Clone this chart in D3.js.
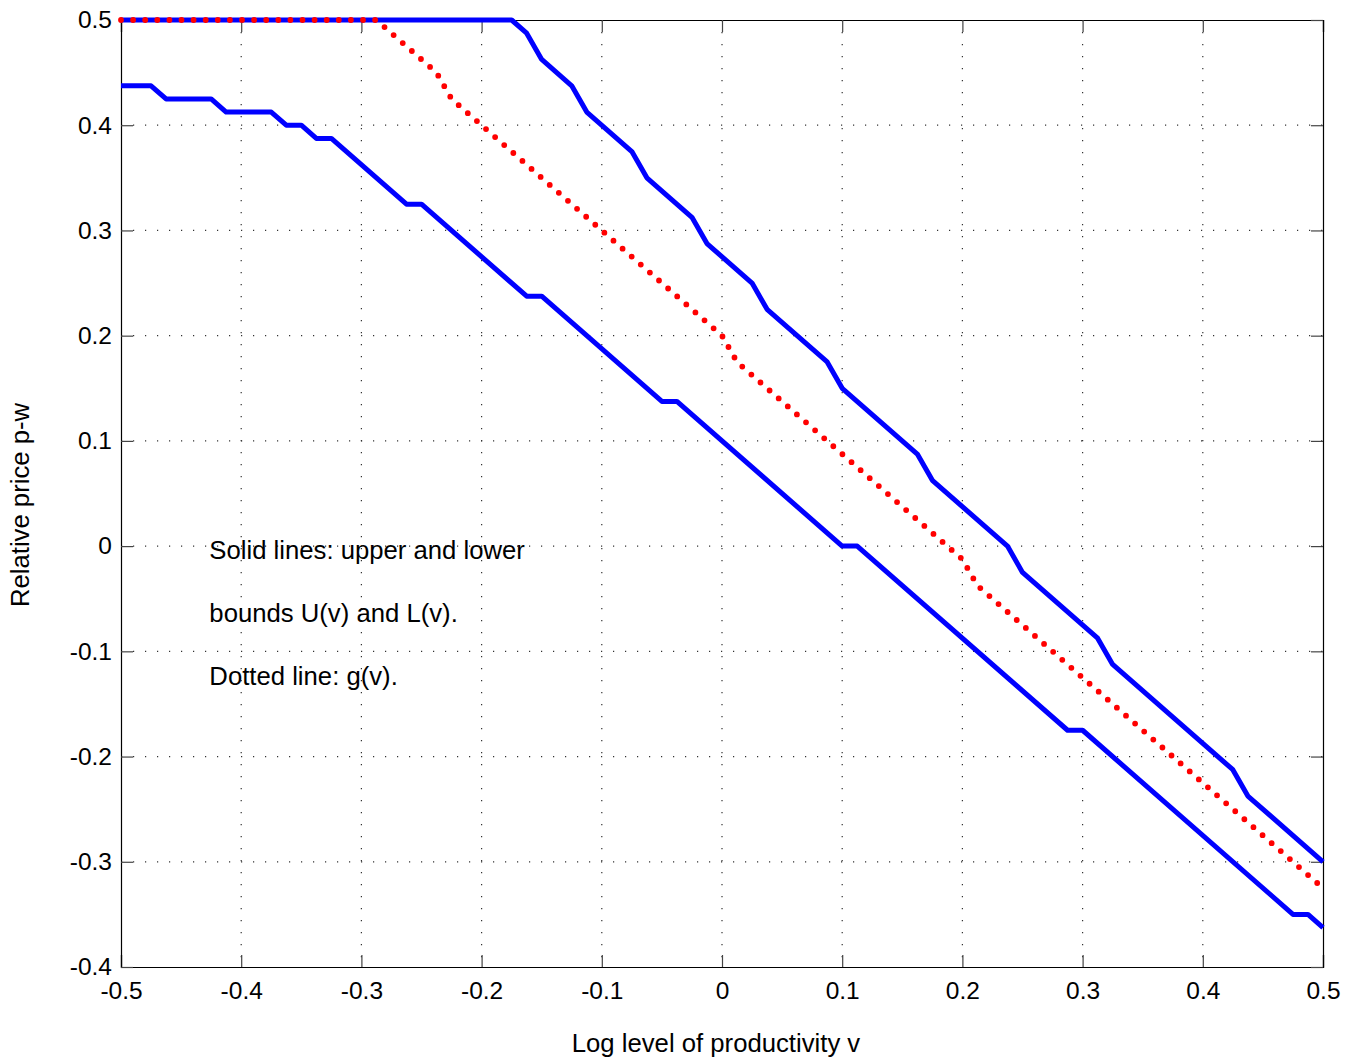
<!DOCTYPE html>
<html>
<head>
<meta charset="utf-8">
<script src="https://cdn.jsdelivr.net/npm/d3@7"></script>
<style>
  html, body { margin: 0; padding: 0; background: #fff; }
  svg { display: block; }
  text { font-family: "Liberation Sans", Arial, Helvetica, sans-serif; fill: #000; }
</style>
</head>
<body>
<script>
// ---- Data ----
const xTicks = [-0.5, -0.4, -0.3, -0.2, -0.1, 0, 0.1, 0.2, 0.3, 0.4, 0.5];
const yTicks = [0.5, 0.4, 0.3, 0.2, 0.1, 0, -0.1, -0.2, -0.3, -0.4];

// Upper bound U(v): vertices
const upperV = [-0.5, -0.175, -0.1625, -0.15, -0.125, -0.1125, -0.075, -0.0625, -0.025, -0.0125,
                0.025, 0.0375, 0.0875, 0.1, 0.1625, 0.175, 0.2375, 0.25, 0.3125, 0.325, 0.425, 0.4375, 0.5];
const upperP = [0.5, 0.5, 0.4875, 0.4625, 0.4375, 0.4125, 0.375, 0.35, 0.3125, 0.2875,
                0.25, 0.225, 0.175, 0.15, 0.0875, 0.0625, 0, -0.025, -0.0875, -0.1125, -0.2125, -0.2375, -0.3];

// Lower bound L(v): vertices
const lowerV = [-0.5, -0.475, -0.4625, -0.425, -0.4125, -0.375, -0.3625, -0.35, -0.3375, -0.325,
                -0.2625, -0.25, -0.1625, -0.15, -0.05, -0.0375, 0.1, 0.1125, 0.2875, 0.3, 0.475, 0.4875, 0.5];
const lowerP = [0.4375, 0.4375, 0.425, 0.425, 0.4125, 0.4125, 0.4, 0.4, 0.3875, 0.3875,
                0.325, 0.325, 0.2375, 0.2375, 0.1375, 0.1375, 0, 0, -0.175, -0.175, -0.35, -0.35, -0.3625];

// g(v): vertices (dotted)
const gV = [-0.5, -0.2875, -0.2375, -0.225, 0, 0.0125, 0.2, 0.2125, 0.5];
const gP = [0.5, 0.5, 0.45, 0.425, 0.2, 0.175, -0.0125, -0.0375, -0.325];

const annotation = ["Solid lines: upper and lower", "bounds U(v) and L(v).", "Dotted line: g(v)."];
const xLabel = "Log level of productivity v";
const yLabel = "Relative price p-w";

// ---- Layout ----
const W = 1355, H = 1062;
const mLeft = 121, mRight = 1323, mTop = 20, mBottom = 967;

const svg = d3.select("body").append("svg").attr("width", W).attr("height", H);

const x = d3.scaleLinear().domain([-0.5, 0.5]).range([mLeft, mRight]);
const y = d3.scaleLinear().domain([-0.4, 0.5]).range([mBottom, mTop]);

// Grid (dotted)
const grid = svg.append("g");
grid.selectAll("line.vg").data(xTicks.slice(1, -1)).enter().append("line")
  .attr("x1", d => x(d)).attr("x2", d => x(d)).attr("y1", mTop).attr("y2", mBottom)
  .attr("stroke", "#333").attr("stroke-width", 1.2).attr("stroke-dasharray", "1.2,10.8");
grid.selectAll("line.hg").data(yTicks.slice(1, -1)).enter().append("line")
  .attr("y1", d => y(d)).attr("y2", d => y(d)).attr("x1", mLeft).attr("x2", mRight)
  .attr("stroke", "#333").attr("stroke-width", 1.2).attr("stroke-dasharray", "1.2,10.8");

// Axes with inward ticks, mirrored
const tickLen = 12;
const tickFont = 24.5;
const labelFont = 25.7;
const fmt = d => String(d);
const axB = svg.append("g").attr("transform", `translate(0,${mBottom})`)
  .call(d3.axisBottom(x).tickValues(xTicks).tickSize(-tickLen).tickPadding(15).tickFormat(fmt));
const axT = svg.append("g").attr("transform", `translate(0,${mTop})`)
  .call(d3.axisTop(x).tickValues(xTicks).tickSize(-tickLen).tickFormat(""));
const axL = svg.append("g").attr("transform", `translate(${mLeft},0)`)
  .call(d3.axisLeft(y).tickValues(yTicks).tickSize(-tickLen).tickPadding(9).tickFormat(fmt));
const axR = svg.append("g").attr("transform", `translate(${mRight},0)`)
  .call(d3.axisRight(y).tickValues(yTicks).tickSize(-tickLen).tickFormat(""));

[axB, axT, axL, axR].forEach(a => {
  a.select(".domain").attr("stroke", "#000").attr("stroke-width", 1.2);
  a.selectAll(".tick line").attr("stroke", "#444").attr("stroke-width", 1.2);
  a.selectAll(".tick text").style("font-size", tickFont + "px")
    .style("font-family", '"Liberation Sans", Arial, sans-serif').attr("fill", "#000");
});

// Lines
const lineGen = d3.line().x(d => x(d[0])).y(d => y(d[1]));
const upper = upperV.map((v, i) => [v, upperP[i]]);
const lower = lowerV.map((v, i) => [v, lowerP[i]]);
const gdat = gV.map((v, i) => [v, gP[i]]);

svg.append("path").datum(upper).attr("d", lineGen)
  .attr("fill", "none").attr("stroke", "#0000ff").attr("stroke-width", 5).attr("stroke-linejoin", "round");
svg.append("path").datum(lower).attr("d", lineGen)
  .attr("fill", "none").attr("stroke", "#0000ff").attr("stroke-width", 5).attr("stroke-linejoin", "round");
svg.append("path").datum(gdat).attr("d", lineGen)
  .attr("fill", "none").attr("stroke", "#ff0000").attr("stroke-width", 5.8)
  .attr("stroke-linecap", "round").attr("stroke-dasharray", "0,12.1");

// Annotation
const ann = svg.append("g");
ann.selectAll("text").data(annotation).enter().append("text")
  .attr("x", x(-0.4265)).attr("y", (d, i) => 559 + i * 63)
  .style("font-size", labelFont + "px").text(d => d);

// Axis labels
svg.append("text").attr("x", 716).attr("y", 1052).attr("text-anchor", "middle")
  .style("font-size", labelFont + "px").text(xLabel);
svg.append("text").attr("transform", "translate(29,505) rotate(-90)").attr("text-anchor", "middle")
  .style("font-size", labelFont + "px").text(yLabel);
</script>
</body>
</html>
